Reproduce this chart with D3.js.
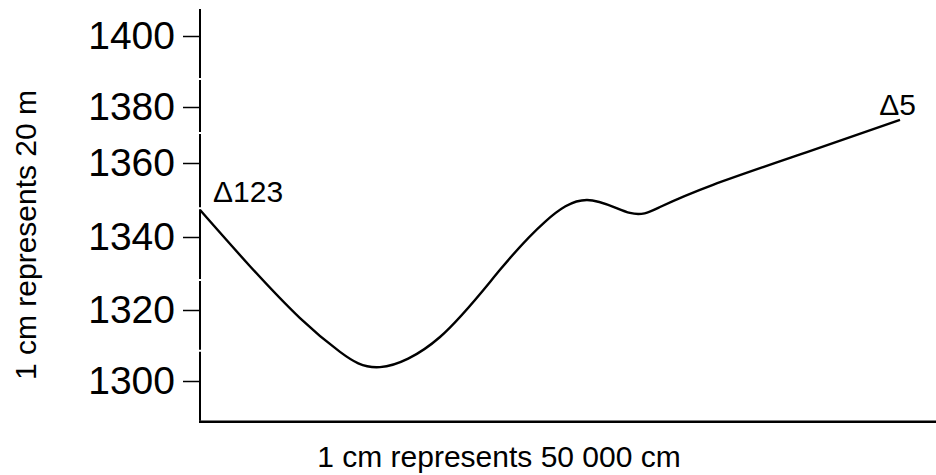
<!DOCTYPE html>
<html>
<head>
<meta charset="utf-8">
<script src="https://cdn.jsdelivr.net/npm/d3@7"></script>
<style>
  body { margin: 0; background: #fff; }
  text { font-family: "Liberation Sans", Arial, sans-serif; }
</style>
</head>
<body>
<div id="vis"></div>
<script>
// Cross-section profile between two trig beacons

width = 936;
height = 475;

// distance along the section (map cm) and height (m)
let distance = [0, 1, 2, 2.8, 3.6, 4.8, 6, 6.9, 7.74, 8.6, 9.2, 10.26, 12.14, 14];
let heights  = [1347.3, 1332.0, 1317.7, 1308.2, 1303.9, 1312.4, 1331.0, 1344.1, 1350.0, 1346.5, 1348.1, 1354.1, 1363.9, 1375.4];

// y tick labels and where the hand-drawn axis is broken
let yTicks = [1300, 1320, 1340, 1360, 1380, 1400];
let yTickPos = [381, 310, 237, 163, 107, 36];   // the ruler is not evenly spaced
let axisBreaks = [1288.5, 1308.5, 1328.2, 1347.8, 1370.7, 1387.9, 1407.9];

// beacon labels
let beaconNames = ["\u0394123", "\u03945"];

let xScale = d3.scaleLinear()
    .domain([0, 14])
    .range([200, 900]);
let yScale = d3.scaleLinear()
    .domain(yTicks)
    .range(yTickPos);

let svg = d3.select("#vis").append("svg")
    .attr("width", width).attr("height", height);

// Y axis: ticks only, the line is drawn in pieces
let yAxis = g => g
    .attr("transform", `translate(${xScale(0)},0)`)
    .call(d3.axisLeft(yScale).tickValues(yTicks).tickSize(17).tickPadding(8).tickFormat(d3.format("d")))
    .call(g => g.select(".domain").remove())
    .call(g => g.selectAll(".tick line").attr("stroke-width", 1.5))
    .call(g => g.selectAll(".tick text").attr("font-size", 39).attr("fill", "#000")
        .style("font-family", "'Liberation Sans', Arial, sans-serif"));
svg.append("g").attr("id", "y_axis").call(yAxis);

let pieces = d3.pairs(axisBreaks);
svg.append("g").selectAll("line").data(pieces).enter().append("line")
    .attr("x1", xScale(0)).attr("x2", xScale(0))
    .attr("y1", d => yScale(d[0]) - 1)
    .attr("y2", d => yScale(d[1]) + 1)
    .attr("stroke", "#000").attr("stroke-width", 2);

// X axis line
svg.append("line")
    .attr("x1", xScale(0) - 1).attr("x2", width)
    .attr("y1", yScale(axisBreaks[0])).attr("y2", yScale(axisBreaks[0]))
    .attr("stroke", "#000").attr("stroke-width", 2.5);

// Profile
let line = d3.line()
    .x((d, i) => xScale(distance[i]))
    .y(d => yScale(d))
    .curve(d3.curveNatural);
svg.append("path")
    .datum(heights)
    .attr("d", line)
    .attr("fill", "none")
    .attr("stroke", "#000")
    .attr("stroke-width", 2.4);

// Beacon names
let last = heights.length - 1;
svg.append("text")
    .attr("x", xScale(distance[0]) + 13)
    .attr("y", yScale(heights[0]) - 8)
    .attr("font-size", 30)
    .text(beaconNames[0]);
svg.append("text")
    .attr("x", xScale(distance[last]) + 16)
    .attr("y", yScale(heights[last]) - 5)
    .attr("font-size", 30)
    .style("text-anchor", "end")
    .text(beaconNames[1]);

// Axis labels
svg.append("text").attr("id", "x_label")
    .attr("x", 499)
    .attr("y", 467)
    .attr("font-size", 30)
    .style("text-anchor", "middle")
    .text("1 cm represents 50 000 cm");

svg.append("text").attr("id", "y_label")
    .attr("transform", "rotate(-90)")
    .attr("x", -235)
    .attr("y", 36)
    .attr("font-size", 30)
    .style("text-anchor", "middle")
    .text("1 cm represents 20 m");
</script>
</body>
</html>
